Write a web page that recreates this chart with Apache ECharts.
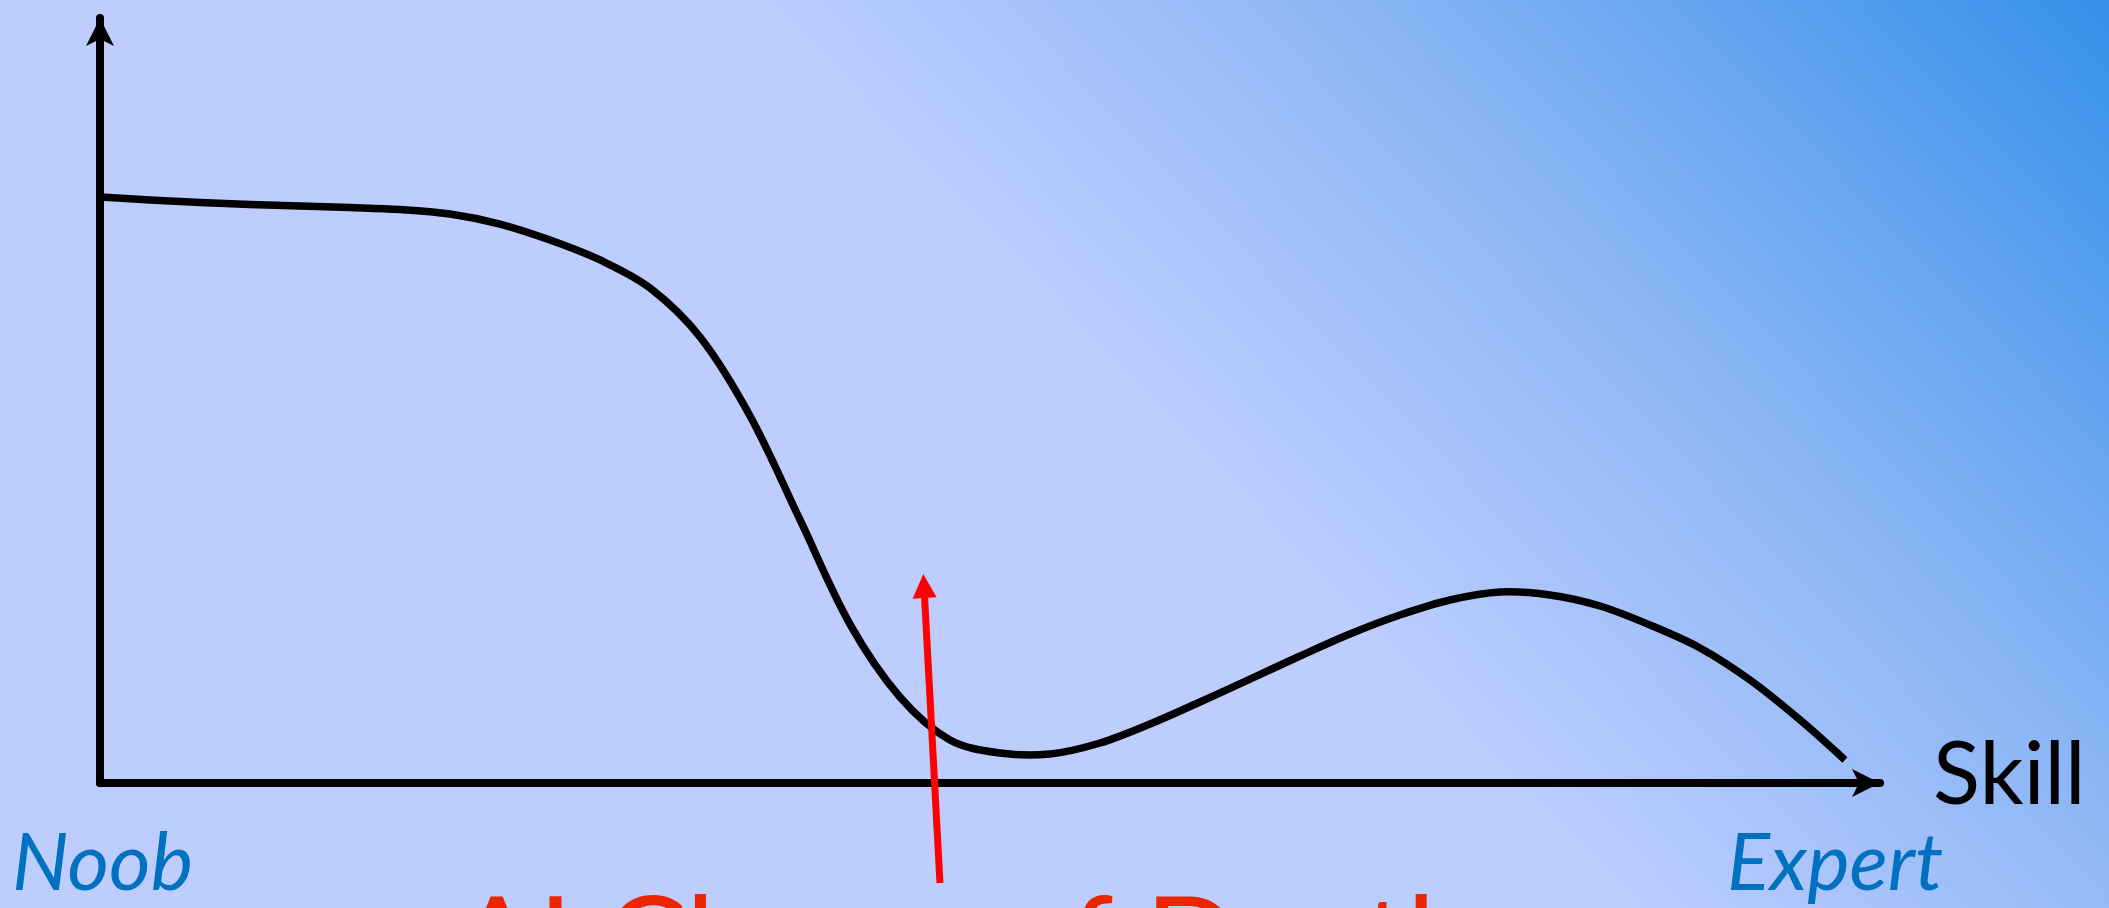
<!DOCTYPE html>
<html>
<head>
<meta charset="utf-8">
<title>AI Chasm of Death</title>
<script src="https://cdn.jsdelivr.net/npm/echarts@6/dist/echarts.min.js"></script>
<style>
html, body { margin: 0; padding: 0; overflow: hidden; }
#chart { width: 2109px; height: 908px; }
</style>
</head>
<body>
<div id="chart"></div>
<script>
// curve: x = skill (0..100), y = how it feels (0..100)
var skill = [0, 2.81, 5.62, 8.43, 11.24, 14.04, 16.85, 19.66, 22.47, 25.28, 28.09, 30.90,
    33.71, 36.52, 39.33, 42.13, 44.94, 47.75, 50.56, 53.37, 56.18, 58.99, 61.80, 64.61,
    67.42, 70.22, 73.03, 75.84, 78.65, 81.46, 84.27, 87.08, 89.89, 92.70, 95.51, 98.03];
var feel = [76.60, 76.21, 75.88, 75.62, 75.42, 75.23, 74.97, 74.38, 73.07, 70.98, 68.37, 64.71,
    58.30, 47.97, 34.38, 20.78, 11.24, 5.62, 3.92, 3.79, 5.23, 7.71, 10.59, 13.59,
    16.60, 19.48, 21.96, 23.92, 24.97, 24.58, 23.14, 20.65, 17.65, 13.46, 8.24, 3.01];

// red pointer: from below the axis up to the chasm
var pointerSkill = [47.19, 46.29];
var pointerFeel = [-13.07, 25.75];

var axisName = 'Skill';
var startLabel = 'Noob';
var endLabel = 'Expert';
var caption = 'AI Chasm of Death';

var chart = echarts.init(document.getElementById('chart'));

var curve = [];
for (var i = 0; i < skill.length; i++) {
    curve.push([skill[i], feel[i]]);
}

var font = 'Lato, "Open Sans", sans-serif';

function plainAxis() {
    return {
        type: 'value',
        min: 0,
        max: 100,
        axisLine: {
            show: true,
            symbol: ['none', 'arrow'],
            symbolSize: [21, 28],
            lineStyle: { color: '#000', width: 8 }
        },
        axisTick: { show: false },
        axisLabel: { show: false },
        splitLine: { show: false }
    };
}

// whole curve as one smooth path, points go through the axes' scales
function renderCurve(params, api) {
    if (params.dataIndex !== 0) {
        return null;
    }
    var pts = [];
    for (var k = 0; k < curve.length; k++) {
        pts.push(api.coord(curve[k]));
    }
    return {
        type: 'polyline',
        shape: { points: pts, smooth: 0.34 },
        style: { stroke: '#000', lineWidth: 7.5, fill: null, lineCap: 'butt' }
    };
}

var option = {
    animation: false,
    grid: {
        left: 100,
        right: 229,
        top: 18,
        bottom: 125
    },
    xAxis: plainAxis(),
    yAxis: plainAxis(),
    series: [
        {
            type: 'custom',
            data: curve,
            renderItem: renderCurve,
            silent: true,
            z: 3
        },
        {
            type: 'lines',
            coordinateSystem: 'cartesian2d',
            clip: false,
            silent: true,
            z: 4,
            symbol: ['none', 'triangle'],
            symbolSize: 24,
            lineStyle: { color: '#ff0000', width: 7, opacity: 1, curveness: 0 },
            data: [{
                coords: [
                    [pointerSkill[0], pointerFeel[0]],
                    [pointerSkill[1], pointerFeel[1]]
                ]
            }]
        }
    ],
    graphic: [
        {
            type: 'rect',
            z: -10,
            silent: true,
            shape: { x: 0, y: 0, width: 2109, height: 908 },
            style: {
                fill: new echarts.graphic.LinearGradient(760, 0, 1461, -674, [
                    { offset: 0, color: '#bccdfe' },
                    { offset: 0.44, color: '#8ab5f5' },
                    { offset: 1, color: '#3590ea' }
                ], true)
            }
        },
        {
            type: 'text',
            x: 1933,
            y: 776,
            style: {
                text: axisName,
                font: '87px ' + font,
                fill: '#000',
                align: 'left',
                verticalAlign: 'middle'
            }
        },
        {
            type: 'text',
            x: 12,
            y: 864,
            style: {
                text: startLabel,
                font: 'italic 80px ' + font,
                fill: '#0070c0',
                align: 'left',
                verticalAlign: 'middle'
            }
        },
        {
            type: 'text',
            x: 1727,
            y: 864,
            style: {
                text: endLabel,
                font: 'italic 80px ' + font,
                fill: '#0070c0',
                align: 'left',
                verticalAlign: 'middle'
            }
        },
        {
            type: 'text',
            x: 455,
            y: 944,
            style: {
                text: caption,
                font: '123px ' + font,
                fill: '#ea2500',
                align: 'left',
                verticalAlign: 'middle'
            }
        }
    ]
};

chart.setOption(option);
</script>
</body>
</html>
